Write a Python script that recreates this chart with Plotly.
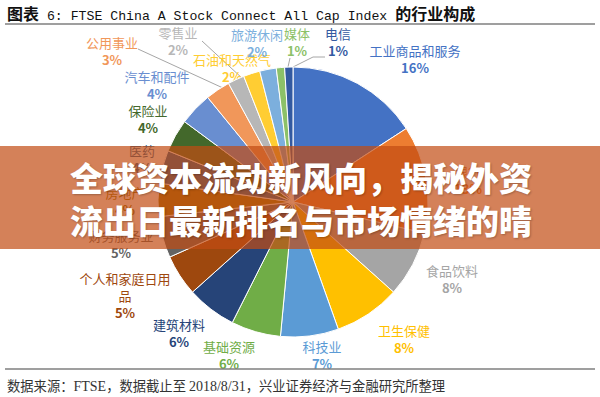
import plotly.graph_objects as go

# ---------------- data ----------------
sectors = ["工业商品和服务", "银行", "食品饮料", "卫生保健", "科技业", "基础资源",
           "建筑材料", "个人和家庭日用品", "财务服务业", "房地产", "医药", "保险业",
           "汽车和配件", "公用事业", "零售业", "石油和天然气", "旅游休闲", "媒体", "电信"]
shares = [16, 13, 8, 8, 7, 6, 6, 5, 5, 4, 4, 4, 4, 3, 2, 2, 2, 1, 1]

title_cn_a = "图表"
title_en = " 6: FTSE China A Stock Connect All Cap Index "
title_cn_b = "的行业构成"
footer_parts = ["数据来源：", "FTSE", "，数据截止至 ", "2018/8/31", "，兴业证券经济与金融研究所整理"]
banner_lines = ["全球资本流动新风向，揭秘外资", "流出日最新排名与市场情绪的晴"]

# ---------------- styles / layout ----------------
W, H = 600, 397
colors = ["#4472C4", "#ED7D31", "#A5A5A5", "#FFC000", "#5B9BD5", "#70AD47",
          "#264478", "#9E480E", "#636363", "#997300", "#255E91", "#43682B",
          "#698ED0", "#F1975A", "#B7B7B7", "#FFCD33", "#7CAFDD", "#8CC168", "#335AA1"]
# label centres in pixels (x, y)
label_xy = [(415, 61), (468, 182), (452, 281), (404, 341), (322, 357), (229, 357),
            (179, 335), (125, 298), (121, 246), (125, 203), (142, 161), (148, 121),
            (157, 87), (112, 53), (178, 43), (232, 70), (257, 45), (297, 44), (338, 44)]
# pie geometry (pixels)
cx, cy, r = 293, 202, 135

CJK = "Noto Sans CJK SC"


def disp_name(n):
    if n == "个人和家庭日用品":
        return "个人和家庭日用<br>品"
    return n


fig = go.Figure()

fig.add_trace(go.Pie(
    values=shares, labels=sectors, sort=False, direction="clockwise", rotation=0,
    marker=dict(colors=colors, line=dict(color="white", width=1)),
    textinfo="none", hoverinfo="label+percent",
    domain=dict(x=[(cx - r) / W, (cx + r) / W], y=[1 - (cy + r) / H, 1 - (cy - r) / H]),
    showlegend=False,
))

# leader lines
lead_x = [202, 243, None, 138, 223, None, 290, 288, None, 325, 313, 293]
lead_y = [41, 79, None, 49, 88, None, 58, 67, None, 57, 57, 67]
fig.add_trace(go.Scatter(x=lead_x, y=lead_y, mode="lines",
                         line=dict(color="#A6A6A6", width=1), hoverinfo="skip",
                         showlegend=False))

# data labels
fig.add_trace(go.Scatter(
    x=[p[0] for p in label_xy], y=[p[1] for p in label_xy],
    text=[f"{disp_name(n)}<br><b>{v}%</b>" for n, v in zip(sectors, shares)],
    mode="text", textposition="middle center",
    textfont=dict(color=colors, size=13, family=CJK),
    hoverinfo="skip", showlegend=False,
))

fig.update_layout(
    width=W, height=H, margin=dict(l=0, r=0, t=0, b=0),
    paper_bgcolor="white", plot_bgcolor="white",
    xaxis=dict(range=[0, W], visible=False, fixedrange=True, domain=[0, 1]),
    yaxis=dict(range=[H, 0], visible=False, fixedrange=True, domain=[0, 1]),
    font=dict(family=CJK),
)

# rules
fig.add_shape(type="line", xref="x", yref="y", x0=5, x1=595, y0=24, y1=24,
              line=dict(color="#7F7F7F", width=1.5), layer="above")
fig.add_shape(type="line", xref="x", yref="y", x0=5, x1=595, y0=369, y1=369,
              line=dict(color="#7F7F7F", width=1.5), layer="above")

# banner
fig.add_shape(type="rect", xref="paper", yref="y", x0=0, x1=1, y0=146, y1=249,
              fillcolor="rgba(194,76,19,0.70)", line=dict(width=0), layer="above")
fig.add_annotation(x=301, y=198, xref="x", yref="y", showarrow=False,
                   text="<br>".join(banner_lines), xanchor="center", yanchor="middle",
                   font=dict(size=33, color="white", family=CJK, weight=900,
                             shadow="1px 1px 2px rgba(0,0,0,0.25)"))

# title
fig.add_annotation(
    x=5, y=12.5, xref="x", yref="y", showarrow=False, xanchor="left", yanchor="middle",
    text=(f"<b>{title_cn_a}</b>"
          f"<span style=\"font-family:'Liberation Mono';font-size:13.2px\">{title_en}</span>"
          f"<b>{title_cn_b}</b>"),
    font=dict(size=16, color="#111111", family=CJK))

# footer
serif = "<span style=\"font-family:'Liberation Serif';font-size:14px\">{}</span>"
footer_html = "".join(serif.format(p) if i in (1, 3) else p for i, p in enumerate(footer_parts))
fig.add_annotation(x=5, y=385, xref="x", yref="y", showarrow=False,
                   xanchor="left", yanchor="middle", text=footer_html,
                   font=dict(size=13.3, color="#333333", family=CJK))

fig.write_html("out.html", config={"displayModeBar": False},
               post_script="document.body.style.margin='0';document.body.style.overflow='hidden';")
